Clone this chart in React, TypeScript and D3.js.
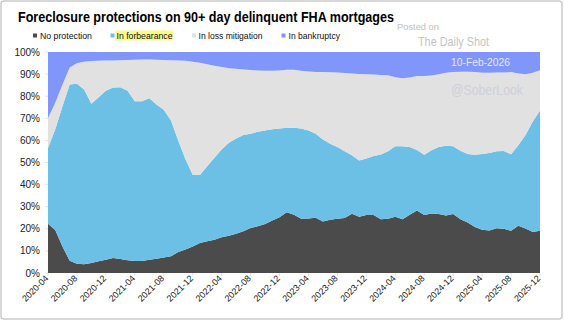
import React from "react";
import * as d3 from "d3";

const startMonth = new Date(2020, 3, 1);
const endMonth = new Date(2026, 0, 1);
const months = d3.timeMonths(startMonth, endMonth).map((d) => d3.timeFormat("%Y-%m")(d));

const tickLabels = [
  "2020-04", "2020-08", "2020-12", "2021-04", "2021-08", "2021-12",
  "2022-04", "2022-08", "2022-12", "2023-04", "2023-08", "2023-12",
  "2024-04", "2024-08", "2024-12", "2025-04", "2025-08", "2025-12",
];

const yTicks = [0, 0.1, 0.2, 0.3, 0.4, 0.5, 0.6, 0.7, 0.8, 0.9, 1];

const seriesNames = ["No protection", "In forbearance", "In loss mitigation", "In bankruptcy"];

const noProtection = [
  22.3, 19.5, 12, 5.5, 4.2, 4.0, 4.5, 5.3, 6.0, 6.8, 6.3, 5.8, 5.4, 5.4, 6.0, 6.5, 7.0, 7.6, 9.5, 10.6,
  12.0, 13.6, 14.4, 15.1, 16.2, 16.9, 17.8, 18.9, 20.4, 21.1, 22.2, 23.7, 25.2, 27.5, 26.4, 24.6, 24.7, 25.0,
  23.3, 24.1, 24.5, 24.9, 26.8, 25.5, 26.3, 26.3, 24.3, 24.6, 25.4, 24.3, 26.4, 28.3, 26.2, 26.9, 26.7, 26.0,
  26.7, 24.3, 22.8, 20.8, 19.6, 19.2, 20.3, 20.0, 19.1, 21.4, 20.1, 18.6, 19.1,
];

const forbearance = [
  34.3, 45.5, 63.5, 79.8, 81.4, 79.0, 72.1, 74.2, 76.5, 77.1, 77.7, 76.7, 72.3, 72.3, 73.1, 69.8, 66.9, 61.4,
  50.5, 40.9, 32.5, 30.7, 33.9, 37.0, 39.7, 42.0, 43.1, 43.5, 42.6, 42.8, 42.3, 41.3, 40.2, 38.2, 39.3, 40.8,
  39.8, 38.0, 37.1, 34.4, 32.5, 30.2, 26.5, 25.4, 25.5, 26.6, 29.3, 30.5, 31.9, 33.1, 30.6, 27.3, 27.3, 28.6,
  30.3, 31.6, 30.7, 31.0, 31.0, 32.7, 34.3, 35.1, 34.8, 35.2, 34.6, 36.4, 42.4, 49.9, 54.4,
];

const lossMitigation = [
  13.4, 12, 9.8, 7.7, 9.3, 12.6, 19.3, 16.5, 13.6, 12.3, 12.3, 13.9, 18.8, 18.9, 17.5, 20.2, 22.5, 27.3, 36.2,
  44.5, 51.1, 50.8, 46.2, 41.7, 37.3, 33.8, 31.5, 29.7, 28.8, 27.7, 27.0, 26.5, 26.2, 26.3, 26.3, 26.1, 26.7,
  28.0, 30.5, 32.3, 33.7, 35.4, 37.0, 39.1, 38.1, 36.9, 36.0, 34.4, 31.3, 30.7, 31.5, 33.5, 35.6, 33.9, 32.9,
  33.0, 33.5, 35.8, 37.3, 37.5, 36.7, 36.3, 35.6, 35.5, 37.2, 32.5, 27.4, 22.1, 18.2,
];

const bankruptcy = [
  30, 23, 14.7, 7, 5.1, 4.4, 4.1, 4.0, 3.9, 3.8, 3.7, 3.6, 3.5, 3.4, 3.4, 3.5, 3.6, 3.7, 3.8, 4.0, 4.4, 4.9,
  5.5, 6.2, 6.8, 7.3, 7.6, 7.9, 8.2, 8.4, 8.5, 8.5, 8.4, 8.0, 8.0, 8.5, 8.8, 9.0, 9.1, 9.2, 9.3, 9.5, 9.7,
  10.0, 10.1, 10.2, 10.4, 10.5, 11.4, 11.9, 11.5, 10.9, 10.9, 10.6, 10.1, 9.4, 9.1, 8.9, 8.9, 9.0, 9.4, 9.4,
  9.3, 9.3, 9.1, 9.7, 10.1, 9.4, 8.3,
];

const colors = ["#4b4b4b", "#6cc0e6", "#e1e1e1", "#8096fb"];

export default function App() {
  const W = 564;
  const H = 321;
  const left = 48;
  const right = 540;
  const top = 52;
  const bottom = 273;

  const table = months.map((m, i) => ({
    month: m,
    [seriesNames[0]]: noProtection[i],
    [seriesNames[1]]: forbearance[i],
    [seriesNames[2]]: lossMitigation[i],
    [seriesNames[3]]: bankruptcy[i],
  }));

  const stack = d3.stack<any>().keys(seriesNames).offset(d3.stackOffsetExpand);
  const layers = stack(table);

  const x = d3.scalePoint<string>().domain(months).range([left, right]);
  const y = d3.scaleLinear().domain([0, 1]).range([bottom, top]);

  const area = d3
    .area<any>()
    .x((d) => x(d.data.month) as number)
    .y0((d) => y(d[0]))
    .y1((d) => y(d[1]))
    .curve(d3.curveLinear);

  const fmt = d3.format(".0%");
  const font = "'Liberation Sans', Arial, sans-serif";

  const legendItems = [
    { name: seriesNames[0], mx: 35, tx: 40, w: 52 },
    { name: seriesNames[1], mx: 112.5, tx: 116.5, w: 56 },
    { name: seriesNames[2], mx: 194, tx: 198.5, w: 64 },
    { name: seriesNames[3], mx: 283.5, tx: 288.5, w: 51.5 },
  ];

  return (
    <svg width={W} height={H} style={{ position: "absolute", left: 0, top: 0 }} fontFamily={font}>
      <rect x={0} y={0} width={W} height={H} fill="#fff" />
      <rect x={1} y={1} width={561} height={318} rx={3} fill="#fff" stroke="#cccccc" strokeWidth={1.5} />
      <text x={18} y={22} fontSize={12.6} fontWeight="bold" fill="#000" transform="translate(18,22) scale(1,1.15) translate(-18,-22)" textLength={376} lengthAdjust="spacingAndGlyphs">
        Foreclosure protections on 90+ day delinquent FHA mortgages
      </text>

      {/* legend */}
      <rect x={115} y={30.5} width={58} height={10} fill="#fdfa8c" />
      {legendItems.map((it, i) => (
        <g key={it.name}>
          <rect x={it.mx - 2} y={33.5} width={4} height={4} fill={colors[i]} />
          <text x={it.tx} y={39} fontSize={8.9} fill="#111" transform={`translate(${it.tx},39) scale(1,1.12) translate(${-it.tx},-39)`} textLength={it.w} lengthAdjust="spacingAndGlyphs">
            {it.name}
          </text>
        </g>
      ))}

      {/* areas */}
      {layers.map((layer, i) => (
        <path key={layer.key} d={area(layer) as string} fill={colors[i]} />
      ))}

      {/* y axis */}
      {yTicks.map((t) => (
        <g key={t}>
          <line x1={left - 3} x2={left} y1={y(t)} y2={y(t)} stroke="#d0d0d0" strokeWidth={0.6} />
          <text x={40} y={y(t) + 3.5} fontSize={10} textAnchor="end" fill="#222">
            {fmt(t)}
          </text>
        </g>
      ))}

      {/* x axis */}
      {tickLabels.map((lab) => {
        const px = x(lab) as number;
        return (
          <g key={lab}>
            <line x1={px} x2={px} y1={bottom} y2={bottom + 3} stroke="#d0d0d0" strokeWidth={0.6} />
            <text
              transform={`translate(${px + 1},${bottom + 6}) rotate(-45)`}
              fontSize={9}
              textAnchor="end"
              fill="#222"
            >
              {lab}
            </text>
          </g>
        );
      })}

      {/* watermark */}
      <text x={397} y={30} fontSize={9.6} fill="#c2c2c2" textLength={42} lengthAdjust="spacingAndGlyphs">
        Posted on
      </text>
      <text x={418} y={46.5} fontSize={11} fill="#c4c4c4" transform="translate(418,46.5) scale(1,1.15) translate(-418,-46.5)" textLength={71} lengthAdjust="spacingAndGlyphs">
        The Daily Shot
      </text>
      <text x={451} y={66} fontSize={10.2} fill="#e4e8ff" transform="translate(451,66) scale(1,1.12) translate(-451,-66)" textLength={59} lengthAdjust="spacingAndGlyphs">
        10-Feb-2026
      </text>
      <text x={451} y={95} fontSize={12.3} fill="#cfcfdc" transform="translate(451,95) scale(1,1.12) translate(-451,-95)" textLength={72} lengthAdjust="spacingAndGlyphs">
        @SoberLook
      </text>
    </svg>
  );
}
